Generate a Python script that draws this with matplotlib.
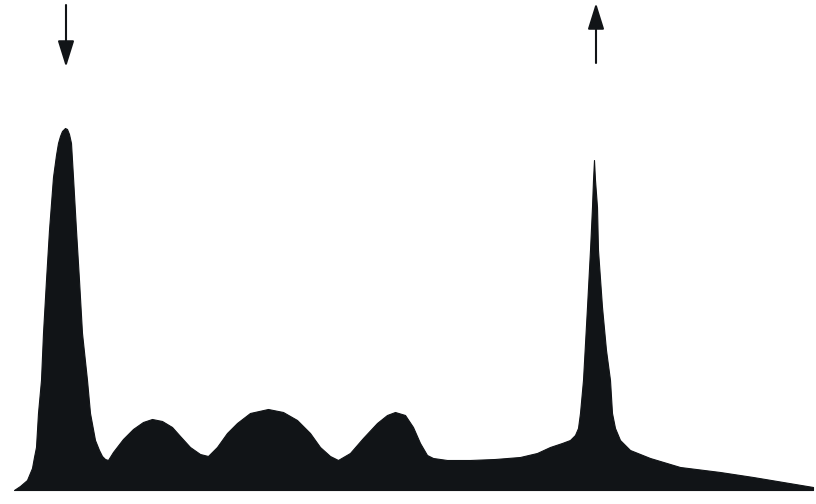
import matplotlib
matplotlib.use("Agg")
import matplotlib.pyplot as plt

# densitometer-style trace: position along the scan vs. optical density (arbitrary units)
position = [
    14, 20, 27, 32, 34, 36, 38, 41, 43, 46, 49, 53, 56, 58, 60, 62, 65, 67, 69, 71,
    73, 76, 79, 82, 87, 90, 95, 99, 102, 105, 108,
    113, 123, 133, 143, 152, 162, 172, 180, 190, 200, 208,
    217, 227, 237, 250, 268, 283, 297, 310, 320, 330, 338,
    350, 363, 377, 387, 395, 405, 413, 420, 427, 433, 447,
    470, 495, 520, 537, 550, 562, 570, 575, 578, 580, 583, 587, 590, 592, 593, 594,
    595, 597, 598, 602, 606, 610, 612, 615, 620, 630, 650, 680, 720, 753, 813,
]
density = [
    0, 4, 10, 22, 33, 43, 77, 110, 157, 210, 260, 313, 335, 347, 354, 359, 362, 361, 356, 347,
    313, 260, 210, 157, 110, 77, 50, 40, 34, 31, 30,
    38, 51, 61, 68, 71, 69, 63, 54, 43, 36, 34,
    43, 57, 67, 77, 81, 78, 70, 57, 43, 34, 30,
    37, 52, 67, 75, 78, 75, 63, 47, 35, 32, 30,
    30, 31, 33, 37, 43, 47, 50, 55, 62, 77, 110, 183, 240, 283, 310, 330,
    310, 283, 240, 183, 140, 110, 77, 62, 50, 40, 32, 23, 18, 13, 3,
]

# arrows marking start (down) and front (up) of the run
start_pos = 66
front_pos = 596
arrow_low = 423
arrow_high = 487

INK = "#111417"

fig = plt.figure(figsize=(8.16, 5.04), dpi=100)
ax = fig.add_axes([0, 0, 1, 1])
ax.fill_between(position, density, 0, color=INK, linewidth=0.8, edgecolor=INK)

arrow_style = "-|>,head_length=1.6,head_width=0.5"
ax.annotate("", xy=(start_pos, arrow_low), xytext=(start_pos, arrow_high - 2),
            arrowprops=dict(arrowstyle=arrow_style, color=INK, lw=1.5, shrinkA=0, shrinkB=0))
ax.annotate("", xy=(front_pos, arrow_high), xytext=(front_pos, arrow_low + 4),
            arrowprops=dict(arrowstyle=arrow_style, color=INK, lw=1.5, shrinkA=0, shrinkB=0))

ax.set_xlim(0, 816)
ax.set_ylim(-14, 490)
ax.axis("off")

fig.savefig("out.png", dpi=100, facecolor="white")
plt.close(fig)
